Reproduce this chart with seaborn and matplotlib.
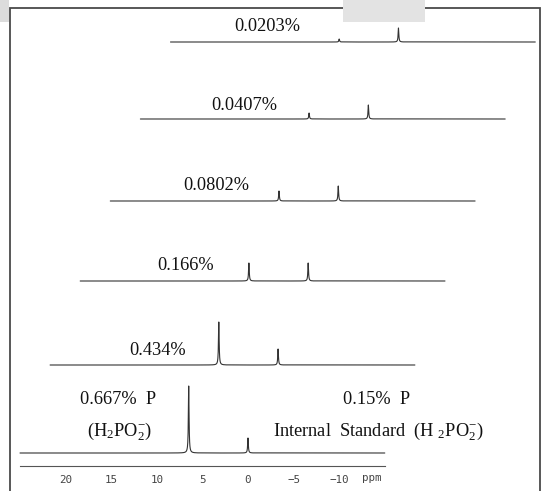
import numpy as np
import pandas as pd
import matplotlib
matplotlib.use("Agg")
import matplotlib.pyplot as plt
from matplotlib.patches import Rectangle
from matplotlib.ticker import FixedLocator
import seaborn as sns

# ---------------- data ----------------
concentration_labels = ["0.667%  P", "0.434%", "0.166%", "0.0802%", "0.0407%", "0.0203%"]
sample_peak_ppm = 6.5        # H2PO2- sample peak
standard_peak_ppm = 0.0      # internal standard peak
sample_peak_heights = [67, 43, 18, 10, 6, 3]
standard_peak_heights = [15, 16, 18, 15, 14, 14]
major_ticks = [20, 15, 10, 5, 0, -5, -10]
tick_labels = ["20", "15", "10", "5", "0", "\u22125", "\u221210"]
ppm_start, ppm_end = 25.0, -15.0

# ---------------- layout (stack offsets) ----------------
stack_dy = [13, 101, 185, 265, 347, 424]
stack_dx = [0.0, -3.3, -6.6, -9.9, -13.2, -16.5]
hwhm = 0.045

sns.set_style("white")
plt.rcParams['font.family'] = ['Liberation Serif', 'DejaVu Serif']
plt.rcParams['mathtext.fontset'] = 'stix'

W, H = 544, 491
fig = plt.figure(figsize=(W / 100, H / 100), dpi=100)
fig.patch.set_facecolor("white")
ax = fig.add_axes([0, 25 / H, 1, 466 / H])
ax.set_facecolor("none")

ppm = np.arange(ppm_end, ppm_start + 1e-9, 0.004)
frames = []
for i, lab in enumerate(concentration_labels):
    sig = (sample_peak_heights[i] * hwhm**2 / (hwhm**2 + (ppm - sample_peak_ppm) ** 2)
           + standard_peak_heights[i] * hwhm**2 / (hwhm**2 + (ppm - standard_peak_ppm) ** 2))
    frames.append(pd.DataFrame({"x": ppm + stack_dx[i], "y": sig + stack_dy[i], "level": lab}))
df = pd.concat(frames, ignore_index=True)

sns.lineplot(data=df, x="x", y="y", hue="level", palette=["#333333"] * len(concentration_labels),
             estimator=None, sort=False, legend=False, linewidth=0.8, ax=ax)

px_per_ppm = 9.12
zero_px = 248
ax.set_xlim(zero_px / px_per_ppm, (zero_px - W) / px_per_ppm)
ax.set_ylim(0, 466)

for s in ["left", "right", "top"]:
    ax.spines[s].set_visible(False)
ax.spines["bottom"].set_bounds(ppm_start, ppm_end)
ax.spines["bottom"].set_color("#555555")
ax.spines["bottom"].set_linewidth(0.8)
ax.set_yticks([])
ax.set_xticks(major_ticks)
ax.set_xticklabels(tick_labels, fontfamily="DejaVu Sans Mono", fontsize=7.8, color="#444444")
ax.xaxis.set_minor_locator(FixedLocator(np.arange(-15, 26, 1)))
ax.tick_params(axis="x", which="major", direction="inout", length=6, width=0.7, colors="#555555", pad=3.5)
ax.tick_params(axis="x", which="minor", direction="in", length=2.5, width=0.6, colors="#555555")
for t in ax.get_xticklabels():
    t.set_color("#444444")
ax.set_xlabel("")
ax.set_ylabel("")


def px2data(px, py):
    return (zero_px - px) / px_per_ppm, 466 - py


ax.text(*px2data(372, 478), "ppm", fontfamily="DejaVu Sans Mono", fontsize=7.8,
        color="#444444", ha="center", va="center", clip_on=False)

label_pos = [(118, 404), (158, 355), (186, 270), (216, 190), (244, 110), (267, 31)]
fs = 13.2
for lab, (px, py) in zip(concentration_labels, label_pos):
    ax.text(*px2data(px, py), lab, fontsize=fs, ha="center", va="baseline", color="#111111")

ax.text(*px2data(120, 435), r"(H$\mathregular{_2}$PO$\mathregular{_2^{-}}$)", fontsize=fs,
        ha="center", va="baseline", color="#111111")
ax.text(*px2data(377, 404), "0.15%  P", fontsize=fs, ha="center", va="baseline", color="#111111")
ax.text(*px2data(378, 435), r"Internal  Standard  (H $\mathregular{_2}$PO$\mathregular{_2^{-}}$)",
        fontsize=fs, ha="center", va="baseline", color="#111111")

# frame and scan artefacts
fig.add_artist(Rectangle((10 / W, -0.02), 530 / W, 1.02 - 8 / H, transform=fig.transFigure,
                         fill=False, edgecolor="#4a4a4a", linewidth=1.3, zorder=5))
fig.add_artist(Rectangle((343 / W, 1 - 22 / H), 82 / W, 22 / H + 0.01, transform=fig.transFigure,
                         facecolor="#e3e3e3", edgecolor="none", zorder=6))
fig.add_artist(Rectangle((0, 1 - 22 / H), 9 / W, 22 / H + 0.01, transform=fig.transFigure,
                         facecolor="#dcdcdc", edgecolor="none", zorder=6))

fig.savefig("out.png", dpi=100, facecolor="white")
